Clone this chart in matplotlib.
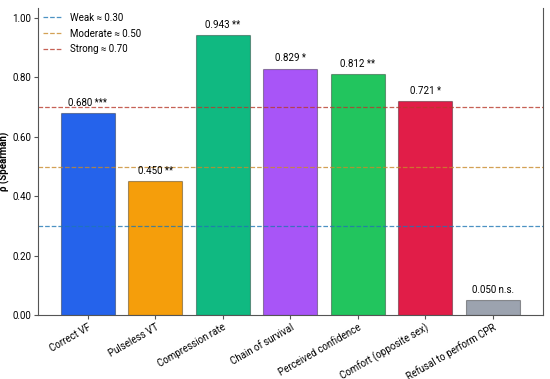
import matplotlib
matplotlib.use("Agg")
import matplotlib.pyplot as plt

# Spearman correlations per item
categories = ["Correct VF", "Pulseless VT", "Compression rate", "Chain of survival",
              "Perceived confidence", "Comfort (opposite sex)", "Refusal to perform CPR"]
rho = [0.680, 0.450, 0.943, 0.829, 0.812, 0.721, 0.050]
signif = ["***", "**", "**", "*", "**", "*", "n.s."]
bar_colors = ["#2563EB", "#F59E0B", "#10B981", "#A855F7", "#22C55E", "#E11D48", "#9CA3AF"]

# reference thresholds
thr_labels = ["Weak ≈ 0.30", "Moderate ≈ 0.50", "Strong ≈ 0.70"]
thr_values = [0.30, 0.50, 0.70]
thr_colors = ["tab:blue", "#c98a2a", "#b83a2b"]

plt.rcParams['font.family'] = ['Roboto', 'DejaVu Sans']

fig = plt.figure(figsize=(5.5, 3.79), dpi=100)
ax = fig.add_axes([0.069, 0.169, 0.918, 0.81])

x = list(range(len(categories)))
ax.bar(x, rho, width=0.8, color=bar_colors, edgecolor=(0, 0, 0, 0.35), linewidth=0.8)

for xi, v, s in zip(x, rho, signif):
    ax.text(xi, v + 0.018, f"{v:.3f} {s}", ha='center', va='bottom', fontsize=7)

for lab, val, col in zip(thr_labels, thr_values, thr_colors):
    ax.axhline(val, color=col, linestyle='--', linewidth=0.9, alpha=0.8, label=lab)

ax.set_ylim(0, 1.034)
yt = [0, 0.2, 0.4, 0.6, 0.8, 1.0]
ax.set_yticks(yt)
ax.set_yticklabels([f"{t:.2f}" for t in yt])
ax.set_xticks(x)
ax.set_xticklabels(categories, rotation=30, ha='right', rotation_mode='anchor')
ax.tick_params(labelsize=7, length=3, pad=2, color='#555555')
ax.set_ylabel("ρ (Spearman)", fontsize=7, fontweight='bold')
ax.yaxis.set_label_coords(-0.055, 0.5)
ax.spines['top'].set_visible(False)
for sp in ['left', 'right', 'bottom']:
    ax.spines[sp].set_color('#555555')

ax.legend(loc='upper left', fontsize=7, frameon=False, handlelength=2.0,
          borderaxespad=0.2, labelspacing=0.6, borderpad=0.3)

fig.savefig("out.png", dpi=100)
